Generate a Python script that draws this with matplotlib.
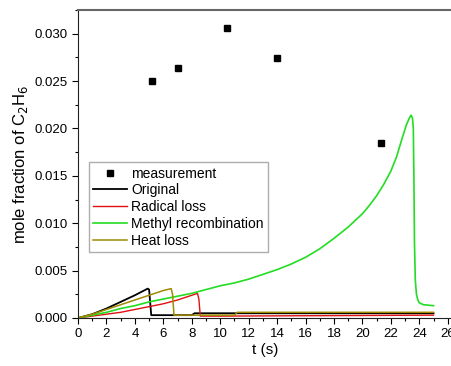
import matplotlib
matplotlib.use("Agg")
import matplotlib.pyplot as plt
from matplotlib.ticker import MultipleLocator

plt.rcParams['font.family'] = ['Liberation Sans', 'DejaVu Sans']

# measurement points
t_meas = [5.2, 7.0, 10.5, 14.0, 21.3]
y_meas = [0.0250, 0.0264, 0.0306, 0.0274, 0.0185]

# Original
t_orig = [0.0, 1.0, 2.0, 3.0, 4.0, 4.9, 5.0, 5.15, 8.0, 8.2, 25.0]
y_orig = [0.0, 0.0004, 0.0010, 0.0017, 0.0024, 0.0031, 0.0030, 0.0003, 0.0003, 0.0005, 0.0005]

# Radical loss
t_rad = [0.0, 1.0, 2.0, 3.0, 4.0, 5.0, 6.0, 7.0, 8.0, 8.4, 8.5, 8.6, 10.0, 25.0]
y_rad = [0.0, 0.0002, 0.0004, 0.0006, 0.0009, 0.0012, 0.0015, 0.0019, 0.0024, 0.0026, 0.0020, 0.0002, 0.0002, 0.0003]

# Methyl recombination
t_meth = [0.0, 1.0, 2.0, 3.0, 4.0, 5.0, 6.0, 7.0, 8.0, 9.0, 10.0, 11.0, 12.0, 13.0,
          14.0, 15.0, 16.0, 17.0, 18.0, 19.0, 20.0, 20.5, 21.0, 21.5, 22.0, 22.4,
          22.8, 23.1, 23.3, 23.42, 23.52, 23.58, 23.62, 23.66, 23.72, 23.8, 23.9,
          24.0, 24.3, 25.0]
y_meth = [0.0, 0.0003, 0.0006, 0.0010, 0.0013, 0.0017, 0.0020, 0.0023, 0.0026, 0.0030,
          0.0034, 0.0037, 0.0041, 0.0046, 0.0051, 0.0057, 0.0064, 0.0073, 0.0084, 0.0096,
          0.0110, 0.0119, 0.0129, 0.0141, 0.0155, 0.0170, 0.0190, 0.0204, 0.0211, 0.0214,
          0.0211, 0.0200, 0.0150, 0.0080, 0.0040, 0.0025, 0.0019, 0.0016, 0.0014, 0.0013]

# Heat loss
t_heat = [0.0, 1.0, 2.0, 3.0, 4.0, 5.0, 6.0, 6.55, 6.65, 6.75, 11.0, 11.2, 25.0]
y_heat = [0.0, 0.0004, 0.0009, 0.0014, 0.0019, 0.0024, 0.0029, 0.0031, 0.0025, 0.0003, 0.0003, 0.0006, 0.0006]

fig = plt.figure(figsize=(4.52, 3.66), dpi=100)
ax = fig.add_axes([78 / 452, 48 / 366, 1 - 78 / 452, 308 / 366])

ax.plot(t_meas, y_meas, ls="none", marker="s", ms=5, color="black", label="measurement")
ax.plot(t_orig, y_orig, color="black", lw=1.3, label="Original")
ax.plot(t_rad, y_rad, color="#e01010", lw=1.0, label="Radical loss")
ax.plot(t_meth, y_meth, color="#22dd22", lw=1.2, label="Methyl recombination")
ax.plot(t_heat, y_heat, color="#a08a00", lw=1.1, label="Heat loss")

ax.set_xlim(0, 26.3)
ax.set_ylim(0, 0.0325)
ax.xaxis.set_major_locator(MultipleLocator(2))
ax.xaxis.set_minor_locator(MultipleLocator(1))
ax.yaxis.set_major_locator(MultipleLocator(0.005))
ax.yaxis.set_minor_locator(MultipleLocator(0.0025))
ax.yaxis.set_major_formatter(plt.FormatStrFormatter("%.3f"))
ax.tick_params(which="major", direction="out", length=4, width=0.8, labelsize=9.5)
ax.tick_params(which="minor", direction="out", length=2, width=0.8)
ax.spines["right"].set_visible(False)
for s in ("left", "bottom"):
    ax.spines[s].set_color("#222222")
ax.spines["top"].set_color("#666666")
ax.spines["top"].set_linewidth(1.5)

ax.set_xlabel("t (s)", fontsize=11, labelpad=2)
ax.set_ylabel("mole fraction of C$_2$H$_6$", fontsize=12, labelpad=3)

leg = ax.legend(loc="lower left", bbox_to_anchor=(0.03, 0.215), fontsize=10,
                frameon=True, fancybox=False, borderpad=0.3, labelspacing=0.2,
                handlelength=2.4, handletextpad=0.3, borderaxespad=0)
leg.get_frame().set_edgecolor("#999999")
leg.get_frame().set_linewidth(1.0)

fig.savefig("out.png", dpi=100)
